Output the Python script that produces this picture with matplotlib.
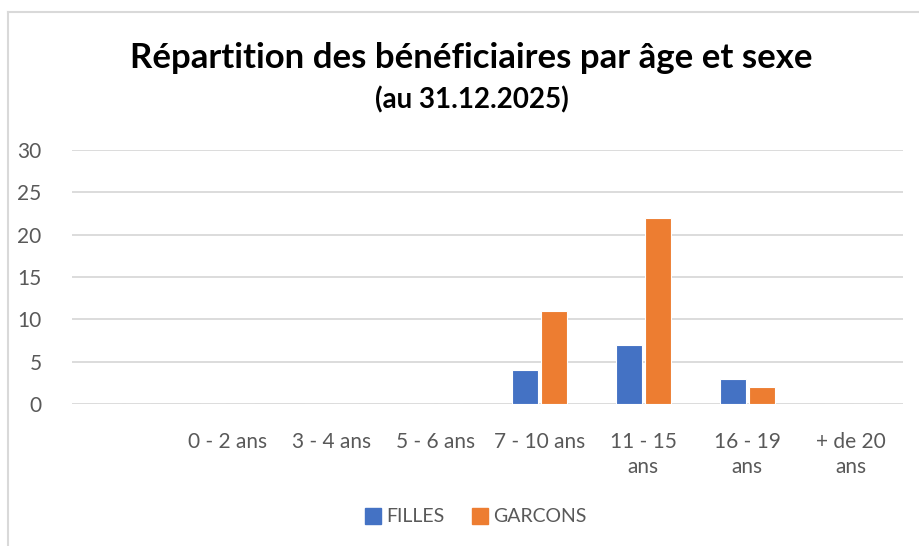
import matplotlib
matplotlib.use("Agg")
import matplotlib.pyplot as plt
import numpy as np
from matplotlib.lines import Line2D

plt.rcParams['font.family'] = ['Lato', 'DejaVu Sans']

# données
categories = ["", "0 - 2 ans", "3 - 4 ans", "5 - 6 ans", "7 - 10 ans",
              "11 - 15\nans", "16 - 19\nans", "+ de 20\nans"]
filles = [0, 0, 0, 0, 4, 7, 3, 0]
garcons = [0, 0, 0, 0, 11, 22, 2, 0]

blue = '#4472C4'
orange = '#ED7D31'
grey = '#595959'

fig = plt.figure(figsize=(9.19, 5.46), dpi=100)
ax = fig.add_axes([72 / 919, 1 - 404 / 546, (903 - 72) / 919, (404 - 150) / 546])

x = np.arange(len(categories))
w = 0.25
ax.bar(x - 0.14, filles, w, color=blue, edgecolor='white', linewidth=0.8, label='FILLES', zorder=3)
ax.bar(x + 0.14, garcons, w, color=orange, edgecolor='white', linewidth=0.8, label='GARCONS', zorder=3)

ax.set_xlim(-0.5, len(categories) - 0.5)
ax.set_ylim(0, 30)
ax.set_yticks(range(0, 31, 5))
ax.set_xticks(x)
ax.set_xticklabels(categories, linespacing=1.35)
ax.tick_params(axis='both', length=0, labelsize=15, colors=grey)
ax.tick_params(axis='x', pad=20)
ax.tick_params(axis='y', pad=22)
ax.yaxis.grid(True, color='#d9d9d9', linewidth=1.3, zorder=0)
for s in ax.spines.values():
    s.set_visible(False)

fig.text(471 / 919, 1 - 58 / 546, "Répartition des bénéficiaires par âge et sexe",
         ha='center', va='center', fontsize=25, fontweight='bold', color='black')
fig.text(472 / 919, 1 - 100 / 546, "(au 31.12.2025)",
         ha='center', va='center', fontsize=20, fontweight='bold', color='black')

handles = [Line2D([0], [0], marker='s', color='none', markerfacecolor=blue, markeredgecolor=blue, markersize=12),
           Line2D([0], [0], marker='s', color='none', markerfacecolor=orange, markeredgecolor=orange, markersize=12)]
leg = fig.legend(handles, ['FILLES', 'GARCONS'], loc='center', bbox_to_anchor=(476 / 919, 1 - 517 / 546),
                 ncol=2, frameon=False, fontsize=14, handlelength=0.8, handletextpad=0.3, columnspacing=1.4)
for t in leg.get_texts():
    t.set_color(grey)

# cadre
fig.add_artist(Line2D([8 / 919, 8 / 919], [0, 1 - 12 / 546], transform=fig.transFigure, color='#d9d9d9', linewidth=1.5))
fig.add_artist(Line2D([8 / 919, 1], [1 - 12 / 546, 1 - 12 / 546], transform=fig.transFigure, color='#d9d9d9', linewidth=1.5))

fig.savefig('out.png', dpi=100)
